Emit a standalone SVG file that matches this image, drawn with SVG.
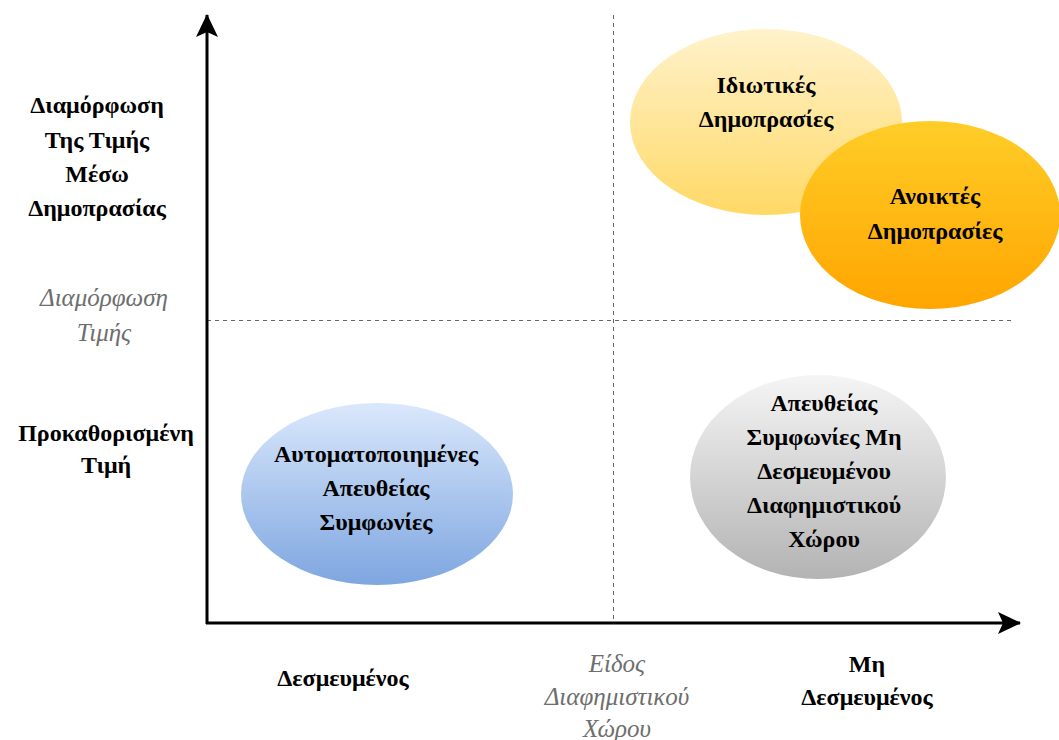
<svg xmlns="http://www.w3.org/2000/svg" width="1059" height="740" viewBox="0 0 1059 740">
  <style>
    .lbl { font-family: "Liberation Serif", "Times New Roman", serif; font-weight: bold; font-size: 24px; fill: #000; text-anchor: middle; }
    .axis-title { font-family: "Liberation Serif", "Times New Roman", serif; font-style: italic; font-size: 25px; fill: #6e6e6e; text-anchor: middle; }
    .axis { stroke: #000; stroke-width: 3; fill: none; }
    .guide { stroke: #666; stroke-width: 1; stroke-dasharray: 4 4; fill: none; shape-rendering: crispEdges; }
  </style>
  <defs>
    <linearGradient id="gYellow" x1="0" y1="0" x2="0" y2="1">
      <stop offset="0" stop-color="#fff2cc"/>
      <stop offset="1" stop-color="#ffd966"/>
    </linearGradient>
    <linearGradient id="gOrange" x1="0" y1="0" x2="0" y2="1">
      <stop offset="0" stop-color="#ffcd28"/>
      <stop offset="1" stop-color="#ffa500"/>
    </linearGradient>
    <linearGradient id="gGray" x1="0" y1="0" x2="0" y2="1">
      <stop offset="0" stop-color="#f5f5f5"/>
      <stop offset="1" stop-color="#b3b3b3"/>
    </linearGradient>
    <linearGradient id="gBlue" x1="0" y1="0" x2="0" y2="1">
      <stop offset="0" stop-color="#dae8fc"/>
      <stop offset="1" stop-color="#7ea6e0"/>
    </linearGradient>
    <marker id="arrow" viewBox="0 0 24 24" refX="22" refY="12" markerWidth="24" markerHeight="24" markerUnits="userSpaceOnUse" orient="auto">
      <path d="M0,1 L23,12 L0,23 L5,12 Z" fill="#000"/>
    </marker>
  </defs>

  <!-- quadrant guides -->
  <g id="guides">
    <line class="guide" x1="613.5" y1="15" x2="613.5" y2="623"/>
    <line class="guide" x1="207" y1="320.5" x2="1015" y2="320.5"/>
  </g>

  <!-- axes -->
  <g id="connectors">
    <line class="axis" x1="207" y1="624" x2="207" y2="15" marker-end="url(#arrow)"/>
    <line class="axis" x1="206" y1="623" x2="1020" y2="623" marker-end="url(#arrow)"/>
  </g>

  <!-- vertical axis labels -->
  <g id="y-auction">
    <text class="lbl" x="97" y="113">Διαμόρφωση</text>
    <text class="lbl" x="97" y="148">Της Τιμής</text>
    <text class="lbl" x="97" y="182">Μέσω</text>
    <text class="lbl" x="97" y="216">Δημοπρασίας</text>
  </g>
  <g id="y-title">
    <text class="axis-title" x="104" y="306">Διαμόρφωση</text>
    <text class="axis-title" x="104" y="341">Τιμής</text>
  </g>
  <g id="y-fixed">
    <text class="lbl" x="106" y="441">Προκαθορισμένη</text>
    <text class="lbl" x="106" y="473">Τιμή</text>
  </g>

  <!-- horizontal axis labels -->
  <g id="x-reserved">
    <text class="lbl" x="343" y="686">Δεσμευμένος</text>
  </g>
  <g id="x-title">
    <text class="axis-title" x="617" y="672">Είδος</text>
    <text class="axis-title" x="617" y="705">Διαφημιστικού</text>
    <text class="axis-title" x="617" y="737">Χώρου</text>
  </g>
  <g id="x-nonreserved">
    <text class="lbl" x="867" y="672">Μη</text>
    <text class="lbl" x="867" y="705">Δεσμευμένος</text>
  </g>

  <!-- market types -->
  <g id="private-auctions">
    <ellipse cx="766" cy="122" rx="136" ry="93" fill="url(#gYellow)"/>
    <text class="lbl" x="766" y="93">Ιδιωτικές</text>
    <text class="lbl" x="766" y="127">Δημοπρασίες</text>
  </g>
  <g id="open-auctions">
    <ellipse cx="930" cy="215" rx="130" ry="94" fill="url(#gOrange)"/>
    <text class="lbl" x="935" y="204">Ανοικτές</text>
    <text class="lbl" x="935" y="239">Δημοπρασίες</text>
  </g>
  <g id="unreserved-direct">
    <ellipse cx="818" cy="477" rx="128" ry="102" fill="url(#gGray)"/>
    <text class="lbl" x="824" y="411">Απευθείας</text>
    <text class="lbl" x="824" y="445">Συμφωνίες Μη</text>
    <text class="lbl" x="824" y="479">Δεσμευμένου</text>
    <text class="lbl" x="824" y="513">Διαφημιστικού</text>
    <text class="lbl" x="824" y="547">Χώρου</text>
  </g>
  <g id="automated-direct">
    <ellipse cx="377" cy="494" rx="136" ry="91" fill="url(#gBlue)"/>
    <text class="lbl" x="376" y="462">Αυτοματοποιημένες</text>
    <text class="lbl" x="376" y="496">Απευθείας</text>
    <text class="lbl" x="376" y="530">Συμφωνίες</text>
  </g>
</svg>
